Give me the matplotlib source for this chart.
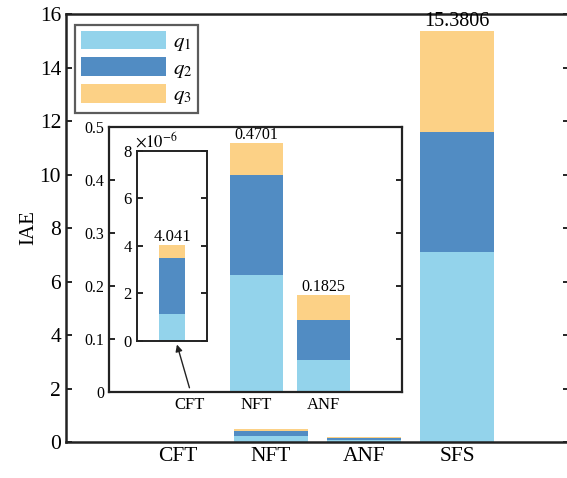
import matplotlib
matplotlib.use("Agg")
import matplotlib.pyplot as plt
import numpy as np

plt.rcParams['font.family'] = ['Liberation Serif', 'DejaVu Serif']
plt.rcParams['mathtext.fontset'] = 'stix'

# IAE per controller, split by state q1/q2/q3
methods = ['CFT', 'NFT', 'ANF', 'SFS']
q1 = [1.12e-6, 0.221, 0.0611, 7.10]
q2 = [2.38e-6, 0.189, 0.0742, 4.49]
q3 = [0.541e-6, 0.0601, 0.0472, 3.7906]
series_names = [r'$q_1$', r'$q_2$', r'$q_3$']

# zoomed views
inset_methods = ['CFT', 'NFT', 'ANF']
inner_scale = 1e-6

main_yticks = [0, 2, 4, 6, 8, 10, 12, 14, 16]
inset_yticks = [0, 0.1, 0.2, 0.3, 0.4, 0.5]
inset_yticklabels = ['0', '0.1', '0.2', '0.3', '0.4', '0.5']
inner_yticks = [0, 2, 4, 6, 8]

colors = ['#93D3EB', '#518CC3', '#FCD186']
bar_w = 0.8

fig = plt.figure(figsize=(5.67, 4.78), dpi=100)


def stacked(ax, xs, data, width):
    bottom = np.zeros(len(xs))
    handles = []
    for vals, c, name in zip(data, colors, series_names):
        vals = np.asarray(vals, dtype=float)
        h = ax.bar(xs, vals, width, bottom=bottom, color=c, label=name,
                   linewidth=0)
        handles.append(h)
        bottom = bottom + vals
    return bottom, handles


def style_box(ax, lw=1.6):
    for s in ax.spines.values():
        s.set_linewidth(lw)
        s.set_color('#222222')
    ax.tick_params(axis='y', direction='in', left=True, right=True,
                   width=1.2, length=4)
    ax.tick_params(axis='x', length=0)


# main axes
ax = fig.add_axes([0.1164, 0.0753, 0.8871, 0.8954])
x = np.arange(1, len(methods) + 1)
data_main = [q1, q2, q3]
tot, handles = stacked(ax, x, data_main, bar_w)
ax.set_xlim(-0.2, 5.2)
ax.set_ylim(0, 16)
ax.set_yticks(main_yticks)
ax.set_xticks(x)
ax.set_xticklabels(methods, fontsize=15.5)
ax.tick_params(axis='y', labelsize=15.5)
ax.set_ylabel('IAE', fontsize=15, labelpad=1)
style_box(ax, 1.8)
ax.text(x[3], tot[3], '{:.6g}'.format(tot[3]), ha='center', va='bottom',
        fontsize=14.5)
leg = ax.legend(handles=handles, loc='upper left', fontsize=15,
                handlelength=4.1, handleheight=1.0, handletextpad=0.3,
                labelspacing=0.2, borderpad=0.3, fancybox=False,
                bbox_to_anchor=(0.005, 0.99), borderaxespad=0.3)
leg.get_frame().set_edgecolor('#333333')
leg.get_frame().set_linewidth(1.6)

# first zoom: CFT, NFT, ANF
ax2 = fig.add_axes([0.1922, 0.1799, 0.5168, 0.5544])
x2 = np.arange(1, len(inset_methods) + 1)
data_inset = [s[:3] for s in data_main]
tot2, _ = stacked(ax2, x2, data_inset, bar_w)
ax2.set_xlim(-0.2, 4.17)
ax2.set_ylim(0, 0.5)
ax2.set_yticks(inset_yticks)
ax2.set_yticklabels(inset_yticklabels)
ax2.set_xticks(x2)
ax2.set_xticklabels(inset_methods, fontsize=12)
ax2.tick_params(axis='y', labelsize=11.5)
style_box(ax2, 1.6)
for i in (1, 2):
    ax2.text(x2[i], tot2[i], '{:.6g}'.format(tot2[i]), ha='center',
             va='bottom', fontsize=11.5)

# second zoom: CFT only, scaled by 1e-6
ax3 = fig.add_axes([0.2411, 0.2872, 0.1245, 0.3969])
data_inner = [[s[0] / inner_scale] for s in data_main]
tot3, _ = stacked(ax3, [1], data_inner, 0.37)
ax3.set_xlim(0.5, 1.5)
ax3.set_ylim(0, 8)
ax3.set_yticks(inner_yticks)
ax3.set_xticks([])
ax3.tick_params(axis='y', labelsize=12)
style_box(ax3, 1.4)
ax3.text(1, tot3[0], '{:.4g}'.format(tot3[0]), ha='center', va='bottom',
         fontsize=12)
ax3.text(-0.02, 1.0, r'$\times10^{-6}$', transform=ax3.transAxes,
         ha='left', va='bottom', fontsize=12)

# arrow from the CFT slot up to the magnified view
ax2.annotate('', xy=(0.57, -0.02), xycoords=ax3.transAxes,
             xytext=(1.0, 0.008), textcoords='data',
             arrowprops=dict(arrowstyle='-|>', color='#222222', lw=1.0,
                             mutation_scale=10, shrinkA=0, shrinkB=0))

fig.savefig('out.png', dpi=100)
